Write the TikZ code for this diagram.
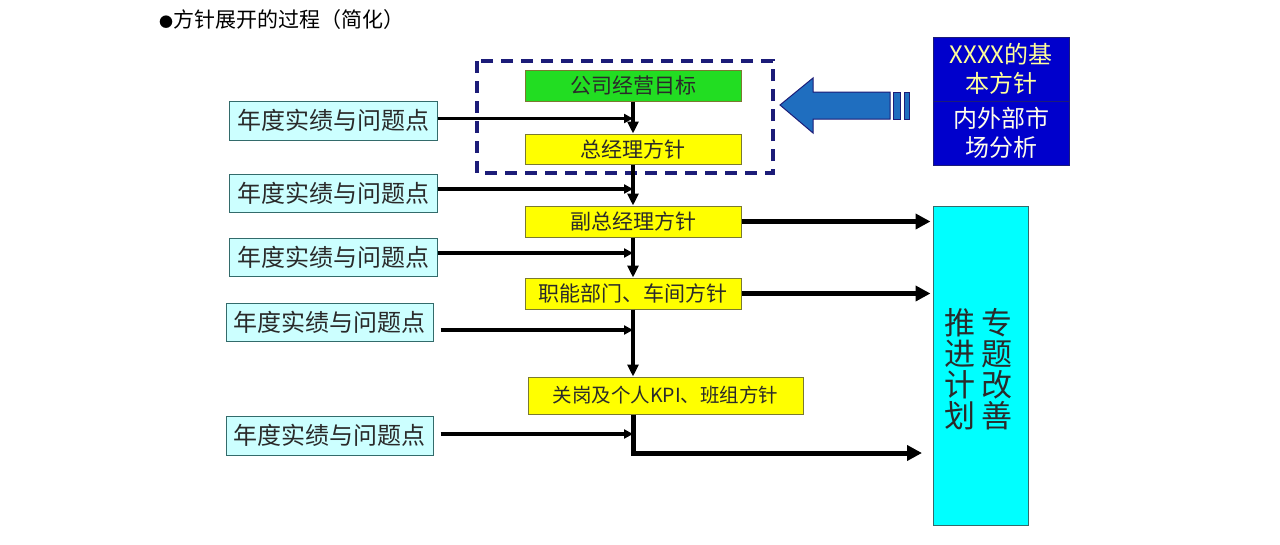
\documentclass[tikz,border=0pt]{standalone}
\usepackage{fontspec}
\setmainfont{Noto Sans CJK SC}
\usetikzlibrary{arrows.meta}
\definecolor{lcyan}{HTML}{CCFFFF}
\definecolor{tealb}{HTML}{336B6B}
\definecolor{ylw}{HTML}{FFFF00}
\definecolor{ylwb}{HTML}{7A7A30}
\definecolor{grn}{HTML}{22DD22}
\definecolor{navy}{HTML}{1C1C78}
\definecolor{bluebox}{HTML}{0000CC}
\definecolor{arrblue}{HTML}{1F6EBF}
\definecolor{txt}{HTML}{2A2A2A}
\definecolor{paleyel}{HTML}{FFFF99}
\definecolor{aqua}{HTML}{00FFFF}
\tikzset{
  lbox/.style={draw=tealb, line width=1pt, fill=lcyan, inner sep=0pt, text=txt, font=\fontsize{24}{26}\selectfont},
  ybox/.style={draw=ylwb, line width=1pt, fill=ylw, inner sep=0pt, text=txt, font=\fontsize{21}{23}\selectfont},
  thin arr/.style={line width=3.2pt, -{Triangle[length=9pt,width=9pt]}},
  down arr/.style={line width=3.2pt, -{Triangle[length=12pt,width=11pt]}},
  fat arr/.style={line width=5pt, -{Triangle[length=15pt,width=15pt]}},
}
\begin{document}
\begin{tikzpicture}[x=1pt,y=-1pt]
\useasboundingbox (0,0) rectangle (1280,544);
\fill[white] (0,0) rectangle (1280,544);

% title
\node[anchor=west, inner sep=0pt, font=\fontsize{21}{23}\selectfont, text=black] (title) at (159,20) {{\fontsize{14}{16}\selectfont ●}方针展开的过程（简化）};

% dashed frame
\draw[navy, line width=3.4pt, dash pattern=on 12pt off 8pt] (477,61) rectangle (773,173);

% central boxes
\node[ybox, fill=grn, minimum width=216pt, minimum height=31pt] (goal) at (633,85.5) {公司经营目标};
\node[ybox, minimum width=216pt, minimum height=30pt] (gm) at (633,149) {总经理方针};
\node[ybox, minimum width=216pt, minimum height=31pt] (vgm) at (633,221.5) {副总经理方针};
\node[ybox, minimum width=216pt, minimum height=31pt] (dept) at (633,293.5) {职能部门、车间方针};
\node[ybox, minimum width=275pt, minimum height=37pt, font=\fontsize{19.5}{22}\selectfont] (kpi) at (665.5,395.5) {关岗及个人KPI、班组方针};

% left boxes
\node[lbox, minimum width=208pt, minimum height=39pt] (L1) at (333,120.5) {年度实绩与问题点};
\node[lbox, minimum width=208pt, minimum height=38pt] (L2) at (333,193) {年度实绩与问题点};
\node[lbox, minimum width=208pt, minimum height=38pt] (L3) at (333,257) {年度实绩与问题点};
\node[lbox, minimum width=207pt, minimum height=38pt] (L4) at (329.5,322) {年度实绩与问题点};
\node[lbox, minimum width=207pt, minimum height=39pt] (L5) at (329.5,435.5) {年度实绩与问题点};

% big cyan box
\node[draw=tealb, line width=1pt, fill=aqua, minimum width=95pt, minimum height=319pt, inner sep=0pt] (big) at (980.5,365.5) {};
\node[align=center, inner sep=0pt, text=txt, font=\fontsize{31}{31}\selectfont] (bigL) at (960,369) {推\\进\\计\\划};
\node[align=center, inner sep=0pt, text=txt, font=\fontsize{31}{31}\selectfont] (bigR) at (997,369) {专\\题\\改\\善};

% blue box
\node[draw=navy, line width=1pt, fill=bluebox, minimum width=136pt, minimum height=64pt, inner sep=0pt, align=center, text=paleyel, font=\fontsize{24}{29}\selectfont] (bt) at (1001,69) {XXXX的基\\本方针};
\node[draw=navy, line width=1pt, fill=bluebox, minimum width=136pt, minimum height=64pt, inner sep=0pt, align=center, text=white!92!yellow, font=\fontsize{24}{29}\selectfont] (bb) at (1001,133) {内外部市\\场分析};

% big blue arrow
\draw[navy, line width=1pt, fill=arrblue] (780,105) -- (813,78) -- (813,92) -- (890,92) -- (890,119) -- (813,119) -- (813,133) -- cycle;
\draw[navy, line width=1pt, fill=arrblue] (893,92) rectangle (900,119);
\draw[navy, line width=1pt, fill=arrblue] (904,92) rectangle (909,119);

% spine arrows
\draw[down arr] (goal.south) -- (gm.north);
\draw[down arr] (gm.south) -- (vgm.north);
\draw[down arr] (vgm.south) -- (dept.north);
\draw[down arr, line width=3.8pt] (dept.south) -- (dept.south |- kpi.north);
\coordinate (corner) at (633,453);
\coordinate (bigin) at (922,453);
\draw[fat arr] (kpi.south -| dept.south) -- (corner) -- (bigin);

% left arrows
\draw[thin arr] (L1.east) ++(0,-2) -- (633,118.5);
\draw[thin arr] (L2.east) ++(0,-4) -- (633,189);
\draw[thin arr] (L3.east) ++(0,-4) -- (633,253);
\draw[thin arr] ([xshift=7pt,yshift=-8pt]L4.east) -- (633,330);
\draw[thin arr] ([xshift=7pt,yshift=1.5pt]L5.east) -- (633,434);

% right fat arrows
\draw[fat arr] (vgm.east) -- ([xshift=-2pt]vgm.east -| big.west);
\draw[fat arr] (dept.east) -- ([xshift=-2pt]dept.east -| big.west);
\end{tikzpicture}
\end{document}
